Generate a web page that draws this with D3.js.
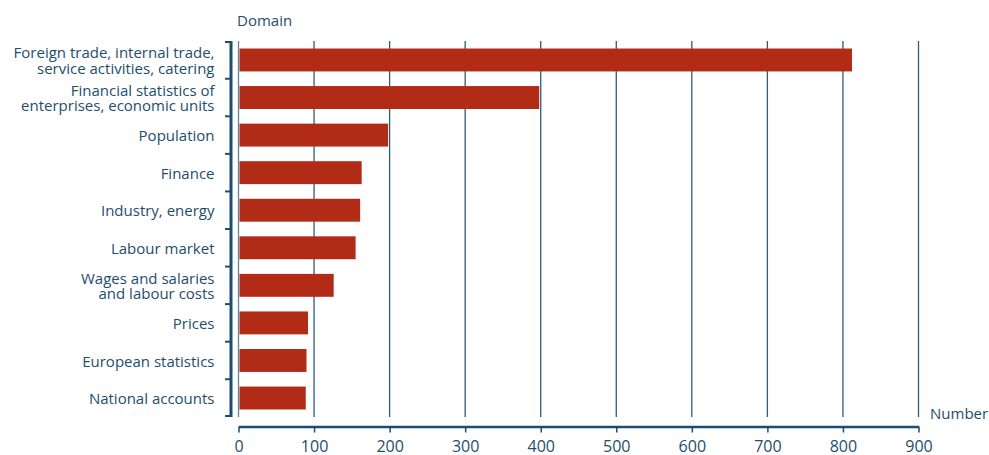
<!DOCTYPE html>
<html>
<head>
<meta charset="utf-8">
<script src="https://cdn.jsdelivr.net/npm/d3@7"></script>
<style>
  body { margin: 0; background: #fff; }
  svg text { font-family: "Open Sans", "Noto Sans", sans-serif; fill: #1d4e6b; }
</style>
</head>
<body>
<div id="chart"></div>
<script>
const domains = [
    ['Foreign trade, internal trade,', 'service activities, catering'],
    ['Financial statistics of', 'enterprises, economic units'],
    ['Population'],
    ['Finance'],
    ['Industry, energy'],
    ['Labour market'],
    ['Wages and salaries', 'and labour costs'],
    ['Prices'],
    ['European statistics'],
    ['National accounts']
];
const counts = [812, 398, 198, 163, 161, 155, 126, 92, 90, 89];
const xTicks = [0, 100, 200, 300, 400, 500, 600, 700, 800, 900];

const W = 989, H = 455;
const margin = { top: 41, right: 70.5, bottom: 38, left: 238.5 };
const width = W - margin.left - margin.right;
const height = H - margin.top - margin.bottom;
const ink = '#1d4e6b';

const svg = d3.select('#chart').append('svg')
    .attr('width', W)
    .attr('height', H);

const g = svg.append('g')
    .attr('transform', `translate(${margin.left},${margin.top})`);

const x = d3.scaleLinear().domain([0, 900]).range([0, width]);
const y = d3.scaleBand()
    .domain(d3.range(domains.length))
    .range([0, height])
    .paddingInner(0.39)
    .paddingOuter(0.2);

// vertical grid lines
g.selectAll('.grid')
    .data(xTicks)
    .enter()
    .append('line')
    .attr('class', 'grid')
    .attr('x1', d => x(d))
    .attr('x2', d => x(d))
    .attr('y1', 0)
    .attr('y2', height)
    .attr('stroke', d => d === 0 ? '#5b87a0' : '#2a5d78')
    .attr('stroke-width', 1.3);

// bars
g.selectAll('.bar')
    .data(counts)
    .enter()
    .append('rect')
    .attr('class', 'bar')
    .attr('x', x(0) + 1)
    .attr('y', (d, i) => y(i))
    .attr('width', d => x(d) - x(0) - 1)
    .attr('height', y.bandwidth())
    .attr('fill', '#b12b17');

// left bracket axis
const axisX = -7.5;
g.append('line')
    .attr('x1', axisX).attr('x2', axisX)
    .attr('y1', 0).attr('y2', height)
    .attr('stroke', ink).attr('stroke-width', 3);

const bounds = domains.map((d, i) => y(i) - y.step() * y.paddingInner() / 2);
bounds[0] = 0;
bounds.push(height);
g.selectAll('.ytick')
    .data(bounds)
    .enter()
    .append('line')
    .attr('class', 'ytick')
    .attr('x1', axisX - 6)
    .attr('x2', axisX)
    .attr('y1', (d, i) => i === 0 ? d + 1 : i === bounds.length - 1 ? d - 1 : d)
    .attr('y2', (d, i) => i === 0 ? d + 1 : i === bounds.length - 1 ? d - 1 : d)
    .attr('stroke', ink)
    .attr('stroke-width', 2);

// category labels
const labels = g.selectAll('.label')
    .data(domains)
    .enter()
    .append('text')
    .attr('class', 'label')
    .attr('text-anchor', 'end')
    .attr('font-size', 15)
    .attr('x', -24)
    .attr('y', (d, i) => y(i) + y.bandwidth() / 2 + 1);

labels.selectAll('tspan')
    .data(d => d.map((t, k) => ({ t, k, n: d.length })))
    .enter()
    .append('tspan')
    .attr('x', -24)
    .attr('dy', d => d.k === 0 ? (d.n === 1 ? '0.35em' : (0.35 - 0.53) + 'em') : '1.02em')
    .text(d => d.t);

// bottom axis
const xAxis = g.append('g')
    .attr('transform', `translate(0,${height + 9.5})`)
    .call(d3.axisBottom(x).tickValues(xTicks).tickSize(6).tickSizeOuter(0).tickPadding(8));

xAxis.select('.domain').attr('stroke', ink).attr('stroke-width', 2.5);
xAxis.selectAll('.tick line').attr('stroke', ink).attr('stroke-width', 1.5);
xAxis.selectAll('.tick text')
    .attr('font-size', 16)
    .attr('fill', ink)
    .style('font-family', '"Open Sans", "Noto Sans", sans-serif');

// axis titles
svg.append('text')
    .attr('x', 237)
    .attr('y', 26)
    .attr('font-size', 15)
    .text('Domain');

svg.append('text')
    .attr('x', 930)
    .attr('y', 419)
    .attr('font-size', 15)
    .text('Number');
</script>
</body>
</html>
